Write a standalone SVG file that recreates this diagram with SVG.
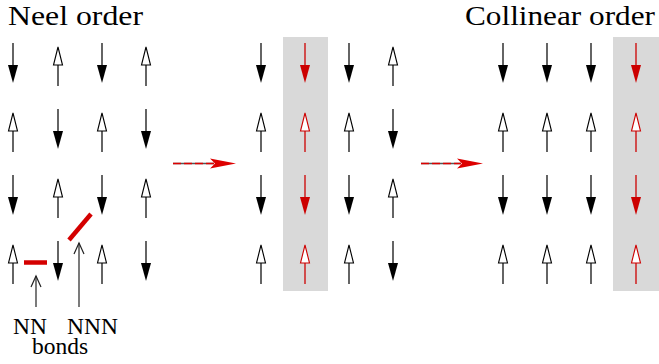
<svg xmlns="http://www.w3.org/2000/svg" xmlns:xlink="http://www.w3.org/1999/xlink" width="659" height="364" viewBox="0 0 659 364">
  <style>
    .title { font-family: "Liberation Serif", "Times New Roman", serif; font-size: 27px; fill: #000; }
    .label { font-family: "Liberation Serif", "Times New Roman", serif; font-size: 23.5px; fill: #000; }
    .stem { stroke: #111; stroke-width: 1.3; fill: none; }
    .stem-red { stroke: #cc0000; stroke-width: 1.3; fill: none; }
    .band { fill: #d9d9d9; }
    .bond { stroke: #d40000; stroke-width: 4.5; stroke-linecap: butt; }
    .pointer { stroke: #222; stroke-width: 1.2; fill: none; }
  </style>
  <defs>
    <!-- spin pointing down: origin at column x, top of the row -->
    <g id="dn">
      <line class="stem" x1="0" y1="0" x2="0" y2="24"/>
      <polygon points="-5,22 5,22 0,40" fill="#000"/>
    </g>
    <!-- spin pointing up, open head -->
    <g id="up">
      <line class="stem" x1="0" y1="22" x2="0" y2="43"/>
      <polygon points="-4.5,22 4.5,22 0,4" fill="#fff" stroke="#000" stroke-width="1.1"/>
    </g>
    <g id="dn-red">
      <line class="stem-red" x1="0" y1="0" x2="0" y2="24"/>
      <polygon points="-5,22 5,22 0,40" fill="#cc0000"/>
    </g>
    <g id="up-red">
      <line class="stem-red" x1="0" y1="22" x2="0" y2="43"/>
      <polygon points="-4.5,22 4.5,22 0,4" fill="#fff" stroke="#cc0000" stroke-width="1.1"/>
    </g>
    <!-- transition arrow head (swept dart) -->
    <path id="dart" d="M26,0 L0,-5 L5,0 L0,5 Z" fill="#dd0000"/>
  </defs>

  <!-- titles -->
  <text class="title" x="8" y="25" textLength="135" lengthAdjust="spacingAndGlyphs">Neel order</text>
  <text class="title" x="465" y="25" textLength="190" lengthAdjust="spacingAndGlyphs">Collinear order</text>

  <!-- highlighted columns -->
  <rect class="band" x="283" y="37" width="45" height="254"/>
  <rect class="band" x="613" y="37" width="46" height="254"/>

  <!-- Neel lattice -->
  <g id="neel">
    <use id="n11" href="#dn" x="13" y="43"/>
    <use id="n12" href="#up" x="58" y="43"/>
    <use id="n13" href="#dn" x="102" y="43"/>
    <use id="n14" href="#up" x="146" y="43"/>
    <use id="n21" href="#up" x="13" y="109"/>
    <use id="n22" href="#dn" x="58" y="109"/>
    <use id="n23" href="#up" x="102" y="109"/>
    <use id="n24" href="#dn" x="146" y="109"/>
    <use id="n31" href="#dn" x="13" y="175"/>
    <use id="n32" href="#up" x="58" y="175"/>
    <use id="n33" href="#dn" x="102" y="175"/>
    <use id="n34" href="#up" x="146" y="175"/>
    <use id="n41" href="#up" x="13" y="241"/>
    <use id="n42" href="#dn" x="58" y="241"/>
    <use id="n43" href="#up" x="102" y="241"/>
    <use id="n44" href="#dn" x="146" y="241"/>
  </g>

  <!-- intermediate lattice -->
  <g id="intermediate">
    <use id="m11" href="#dn" x="261" y="43"/>
    <use id="m12" href="#dn-red" x="305" y="43"/>
    <use id="m13" href="#dn" x="349" y="43"/>
    <use id="m14" href="#up" x="393" y="43"/>
    <use id="m21" href="#up" x="261" y="109"/>
    <use id="m22" href="#up-red" x="305" y="109"/>
    <use id="m23" href="#up" x="349" y="109"/>
    <use id="m24" href="#dn" x="393" y="109"/>
    <use id="m31" href="#dn" x="261" y="175"/>
    <use id="m32" href="#dn-red" x="305" y="175"/>
    <use id="m33" href="#dn" x="349" y="175"/>
    <use id="m34" href="#up" x="393" y="175"/>
    <use id="m41" href="#up" x="261" y="241"/>
    <use id="m42" href="#up-red" x="305" y="241"/>
    <use id="m43" href="#up" x="349" y="241"/>
    <use id="m44" href="#dn" x="393" y="241"/>
  </g>

  <!-- collinear lattice -->
  <g id="collinear">
    <use id="c11" href="#dn" x="503" y="43"/>
    <use id="c12" href="#dn" x="547" y="43"/>
    <use id="c13" href="#dn" x="591" y="43"/>
    <use id="c14" href="#dn-red" x="636" y="43"/>
    <use id="c21" href="#up" x="503" y="109"/>
    <use id="c22" href="#up" x="547" y="109"/>
    <use id="c23" href="#up" x="591" y="109"/>
    <use id="c24" href="#up-red" x="636" y="109"/>
    <use id="c31" href="#dn" x="503" y="175"/>
    <use id="c32" href="#dn" x="547" y="175"/>
    <use id="c33" href="#dn" x="591" y="175"/>
    <use id="c34" href="#dn-red" x="636" y="175"/>
    <use id="c41" href="#up" x="503" y="241"/>
    <use id="c42" href="#up" x="547" y="241"/>
    <use id="c43" href="#up" x="591" y="241"/>
    <use id="c44" href="#up-red" x="636" y="241"/>
  </g>

  <!-- bonds and their labels -->
  <g id="bonds">
    <line class="bond" x1="24" y1="262.5" x2="47" y2="262.5"/>
    <line class="bond" x1="69" y1="240" x2="91" y2="214"/>
    <text class="label" x="13" y="334">NN</text>
    <text class="label" x="67" y="334">NNN</text>
    <text class="label" x="32" y="354">bonds</text>
  </g>

  <!-- connectors -->
  <g id="connectors">
    <line class="pointer" x1="36" y1="307" x2="36" y2="276"/>
    <polyline class="pointer" points="31,287 36,276 41,287"/>
    <line class="pointer" x1="79" y1="307" x2="79" y2="243"/>
    <polyline class="pointer" points="74,254 79,243 84,254"/>

    <line x1="173" y1="163.5" x2="214" y2="163.5" stroke="#555" stroke-width="1.6"/>
    <line x1="173" y1="163.5" x2="214" y2="163.5" stroke="#dd0000" stroke-width="1.6" stroke-dasharray="8,3"/>
    <use href="#dart" x="210" y="163.5"/>

    <line x1="421" y1="163.5" x2="461" y2="163.5" stroke="#555" stroke-width="1.6"/>
    <line x1="421" y1="163.5" x2="461" y2="163.5" stroke="#dd0000" stroke-width="1.6" stroke-dasharray="8,3"/>
    <use href="#dart" x="457" y="163.5"/>
  </g>
</svg>
